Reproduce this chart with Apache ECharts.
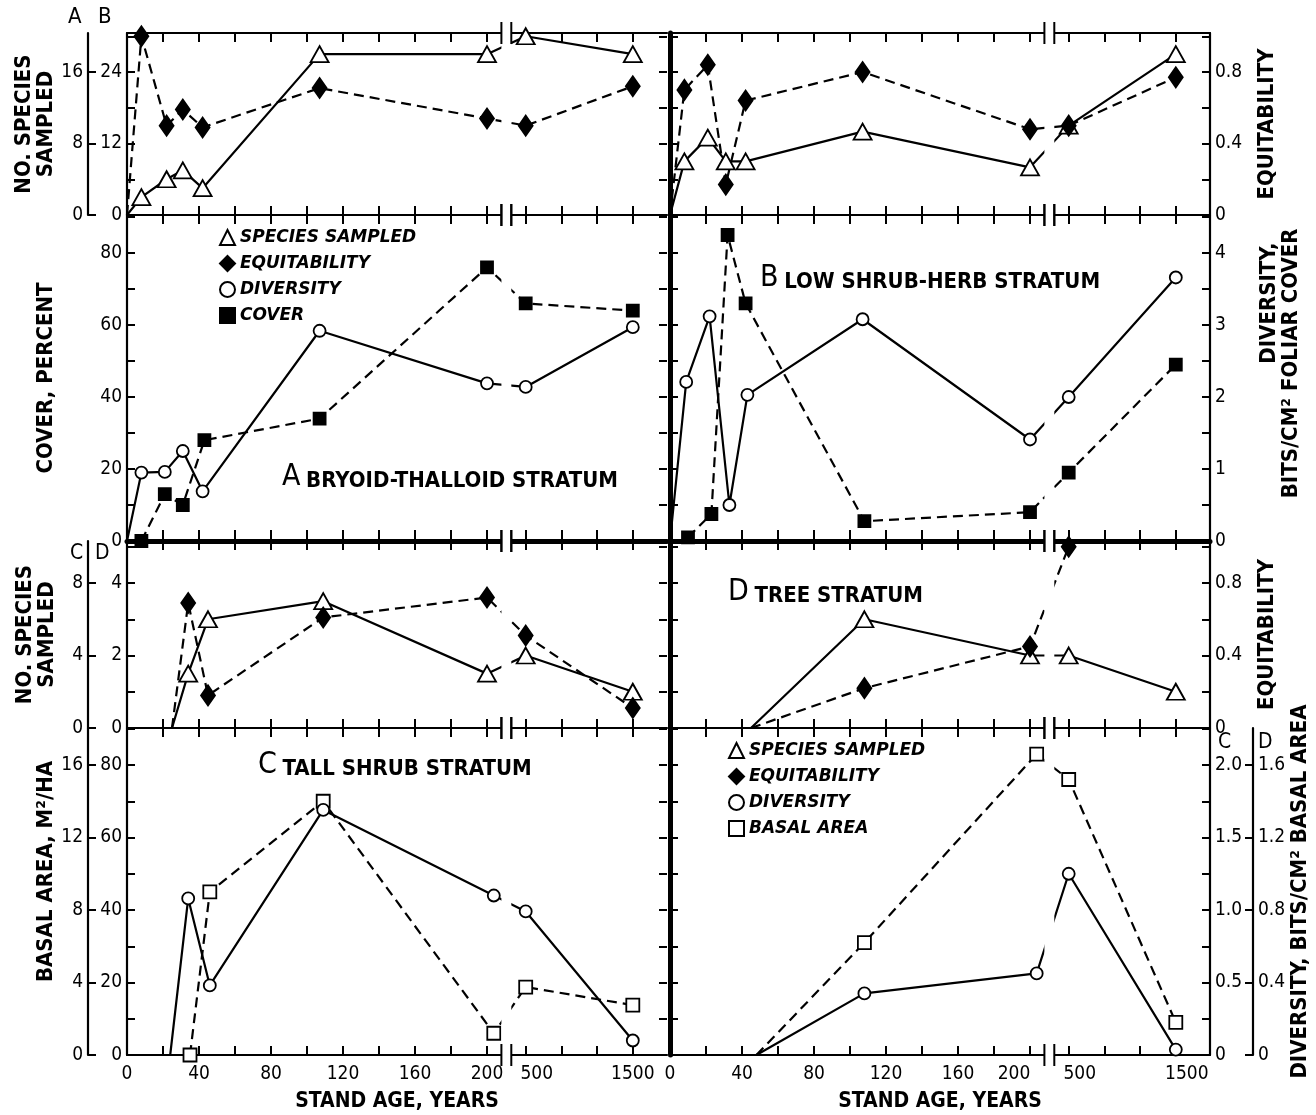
<!DOCTYPE html>
<html><head><meta charset="utf-8">
<script src="https://cdn.jsdelivr.net/npm/echarts@6/dist/echarts.min.js"></script>
<style>html,body{margin:0;padding:0;background:#fff}#c{width:1316px;height:1115px}</style>
</head><body><div id="c"></div>
<script>
// ================= DATA =================
// A  BRYOID-THALLOID STRATUM  (leading 0 entries = start of curve, no marker)
const ageA_species = [0, 8, 22, 31, 42, 107, 200, 500, 1500];
const speciesA     = [0, 2, 4, 5, 3, 18, 18, 20, 18];
const equitA       = [0, 1.0, 0.50, 0.59, 0.49, 0.71, 0.54, 0.50, 0.72];
const ageA_cover   = [8, 21, 31, 43, 107, 200, 500, 1500];
const coverA       = [0, 13, 10, 28, 34, 76, 66, 64];
const ageA_div     = [0, 8, 21, 31, 42, 107, 200, 500, 1500];
const diversityA   = [0, 0.95, 0.96, 1.25, 0.69, 2.92, 2.19, 2.14, 2.97];
// B  LOW SHRUB-HERB STRATUM
const ageB_species = [0, 8, 21, 31, 42, 107, 200, 500, 1500];
const speciesB     = [0, 9, 13, 9, 9, 14, 8, 15, 27];
const equitB       = [0, 0.70, 0.84, 0.17, 0.64, 0.80, 0.48, 0.50, 0.77];
const ageB_cover   = [10, 23, 32, 42, 108, 200, 500, 1500];
const coverB       = [1, 7.5, 85, 66, 5.5, 8, 19, 49];
const ageB_div     = [0, 9, 22, 33, 43, 107, 200, 500, 1500];
const diversityB   = [0, 2.21, 3.12, 0.5, 2.03, 3.08, 1.41, 2.0, 3.66];
// C  TALL SHRUB STRATUM
const ageC_species = [25, 34, 45, 109, 200, 500, 1500];
const speciesC     = [0, 3, 6, 7, 3, 4, 2];
const equitC       = [0, 0.69, 0.18, 0.61, 0.72, 0.51, 0.11];
const ageC_div     = [24, 34, 46, 109, 202, 500, 1500];
const diversityC   = [0, 1.08, 0.48, 1.69, 1.10, 0.99, 0.10];
const ageC_basal   = [35, 46, 109, 202, 500, 1500];
const basalC       = [0, 9.0, 14, 1.2, 3.75, 2.75];
// D  TREE STRATUM
const ageD_species = [45, 108, 200, 500, 1500];
const speciesD     = [0, 3, 2, 2, 1];
const ageD_equit   = [45, 108, 200, 500];
const equitD       = [0, 0.22, 0.45, 1.0];
const ageD_basal   = [48, 108, 201, 500, 1500];
const basalD       = [0, 31, 83, 76, 9];
const diversityD   = [0, 0.34, 0.45, 1.0, 0.03];

// x axis (stand age, broken between 200 and 500, compressed after 500)
const xTickAges  = [20, 40, 60, 80, 100, 120, 140, 160, 180, 200, 500, 833, 1167, 1500];
const xLabelAges = [0, 40, 80, 120, 160, 200, 500, 1500];
const xLabelText = ['0', '40', '80', '120', '160', '200', '500', '1500'];

// y tick / label values
const ticksA = [0, 8, 16],            labelsA = [0, 8, 16];
const ticksB = [0, 6, 12, 18, 24, 30], labelsB = [0, 12, 24];
const ticksEq = [0, 0.2, 0.4, 0.6, 0.8, 1.0], labelsEq = [0, 0.4, 0.8];
const ticksCover = [0, 10, 20, 30, 40, 50, 60, 70, 80, 90], labelsCover = [0, 20, 40, 60, 80];
const ticksDivAB = [0, 0.5, 1, 1.5, 2, 2.5, 3, 3.5, 4, 4.5], labelsDivAB = [0, 1, 2, 3, 4];
const ticksC = [0, 4, 8], labelsC = [0, 4, 8];
const ticksD = [0, 1, 2, 3, 4, 5], labelsD = [0, 2, 4];
const ticksBasC = [0, 4, 8, 12, 16], labelsBasC = [0, 4, 8, 12, 16];
const ticksBasD = [0, 10, 20, 30, 40, 50, 60, 70, 80, 90], labelsBasD = [0, 20, 40, 60, 80];
const ticksDivC = [0, 0.25, 0.5, 0.75, 1, 1.25, 1.5, 1.75, 2, 2.25], labelsDivC = [0, 0.5, 1, 1.5, 2];
const ticksDivD = [0, 0.4, 0.8, 1.2, 1.6], labelsDivD = [0, 0.4, 0.8, 1.2, 1.6];

// ================= LAYOUT =================
const FONT_N = "'Liberation Sans Narrow','DejaVu Sans Condensed','Liberation Sans',sans-serif";
const FONT_D = "'DejaVu Sans Condensed','DejaVu Sans',sans-serif";
const FONT_L = "'DejaVu Sans',sans-serif";
const COL_LEFT = [127, 670], COL_W = 540;
const ROW_TOP = [33, 215, 541, 728], ROW_H = [182, 326, 187, 327];
const PX_PER_UNIT = 1.8, XMAX = COL_W / PX_PER_UNIT;
const BREAK_POS = [208, 213.5];
function agePos(a) { return a <= 200 ? a : 221.5 + (a - 500) * (281 - 221.5) / 1000; }
// axis maxima so that scales on each row share tick positions
const MAX = {
  eq0: 1.0182, A: 1.0182 * 20, B: 1.0182 * 30,
  cover: 90.56, divAB: 90.56 / 20,
  D: 5.159, C: 5.159 * 2, eq2: 5.159 * 0.2,
  basD: 90.21, basC: 90.21 / 5, divC: 90.21 / 40, divD: 90.21 / 50
};

const grids = [];
for (let r = 0; r < 4; r++) for (let c = 0; c < 2; c++)
  grids.push({left: COL_LEFT[c], top: ROW_TOP[r], width: COL_W, height: ROW_H[r]});

const numStyle = {color: '#000', fontSize: 19, fontFamily: FONT_D};
// small per-column label nudges (style only)
const labelShift = [
  {'500': 'r'},
  {'200': 'l', '500': 'r', '1500': 'r'}
];
const xAxes = [];
grids.forEach((g, gi) => {
  const r = Math.floor(gi / 2), c = gi % 2;
  const bottomW = r === 1 ? 5 : 2.2;
  const isLast = r === 3;
  xAxes.push({
    type: 'value', gridIndex: gi, min: 0, max: XMAX, position: 'bottom',
    axisLine: {show: true, onZero: false, lineStyle: {color: '#000', width: bottomW}},
    axisTick: {show: true, inside: true, length: r === 1 ? 11 : 9, lineStyle: {color: '#000', width: 2}, customValues: xTickAges.map(agePos)},
    axisLabel: isLast ? Object.assign({show: true, customValues: xLabelAges.map(agePos), margin: 10,
      rich: {r: Object.assign({padding: [0, 0, 0, 22]}, numStyle), l: Object.assign({padding: [0, 32, 0, 0]}, numStyle)},
      formatter: v => {
        const i = xLabelAges.findIndex(a => Math.abs(agePos(a) - v) < 0.01);
        if (i < 0) return '';
        const t = xLabelText[i], s = labelShift[c][t];
        return s ? '{' + s + '|' + t + '}' : t;
      }}, numStyle) : {show: false},
    splitLine: {show: false},
    name: isLast ? 'STAND AGE, YEARS' : '', nameLocation: 'middle', nameGap: 36,
    nameTextStyle: {color: '#000', fontSize: 21, fontWeight: 'bold', fontFamily: FONT_N}
  });
  xAxes.push({
    type: 'value', gridIndex: gi, min: 0, max: XMAX, position: 'top',
    axisLine: {show: r === 0, onZero: false, lineStyle: {color: '#000', width: 2.2}},
    axisTick: {show: true, inside: true, length: 9, lineStyle: {color: '#000', width: 2}, customValues: xTickAges.map(agePos)},
    axisLabel: {show: false}, splitLine: {show: false}
  });
});

const yAxes = [];
function fmtNum(v) { return String(v); }
function addY(o) {
  yAxes.push({
    type: 'value', gridIndex: o.grid, min: 0, max: o.max, position: o.pos || 'left', offset: o.offset || 0,
    axisLine: {show: o.line !== false, onZero: false, lineStyle: {color: '#000', width: o.lw || 2.2}},
    axisTick: {show: true, inside: true, length: o.tl || 8, lineStyle: {color: '#000', width: 2}, customValues: o.ticks},
    axisLabel: o.labels ? Object.assign({show: true, customValues: o.labels, margin: o.margin || 5, formatter: o.fmt || fmtNum}, numStyle) : {show: false},
    splitLine: {show: false},
    name: o.name || '', nameLocation: 'middle', nameGap: o.nameGap || 30,
    nameTextStyle: Object.assign({color: '#000', fontSize: 22, fontWeight: 'bold', fontFamily: FONT_N, lineHeight: 22}, o.nameStyle || {})
  });
  return yAxes.length - 1;
}
const f1 = v => v === 0 ? '0' : v.toFixed(1);

// row 0
const yA0  = addY({grid: 0, max: MAX.A, offset: 39, ticks: ticksA, labels: labelsA, name: 'NO. SPECIES\nSAMPLED', nameGap: 30});
const yB0  = addY({grid: 0, max: MAX.B, ticks: ticksB, labels: labelsB});
const yE0  = addY({grid: 0, max: MAX.eq0, pos: 'right', line: false, ticks: ticksEq});
const yB1  = addY({grid: 1, max: MAX.B, lw: 5, ticks: ticksB});
const yE1  = addY({grid: 1, max: MAX.eq0, pos: 'right', ticks: ticksEq, labels: labelsEq, fmt: f1, name: 'EQUITABILITY', nameGap: 46});
// row 1
const yCov2 = addY({grid: 2, max: MAX.cover, ticks: ticksCover, labels: labelsCover, name: 'COVER, PERCENT', nameGap: 70});
const yDiv2 = addY({grid: 2, max: MAX.divAB, pos: 'right', line: false, ticks: ticksDivAB});
const yCov3 = addY({grid: 3, max: MAX.cover, lw: 5, ticks: ticksCover});
const yDiv3 = addY({grid: 3, max: MAX.divAB, pos: 'right', ticks: ticksDivAB, labels: labelsDivAB,
  name: '{a|DIVERSITY,}\n{b|BITS/CM² FOLIAR COVER}', nameGap: 48,
  nameStyle: {rich: {a: {width: 285, align: 'right', padding: [0, 14, 0, 0], fontSize: 22, fontWeight: 'bold', fontFamily: FONT_N, lineHeight: 22},
                     b: {width: 285, align: 'right', fontSize: 22, fontWeight: 'bold', fontFamily: FONT_N, lineHeight: 22}}}});
// row 2
const yC4 = addY({grid: 4, max: MAX.C, offset: 39, ticks: ticksC, labels: labelsC, name: 'NO. SPECIES\nSAMPLED', nameGap: 30});
const yD4 = addY({grid: 4, max: MAX.D, ticks: ticksD, labels: labelsD});
const yE4 = addY({grid: 4, max: MAX.eq2, pos: 'right', line: false, ticks: ticksEq});
const yD5 = addY({grid: 5, max: MAX.D, lw: 5, ticks: ticksD});
const yE5 = addY({grid: 5, max: MAX.eq2, pos: 'right', ticks: ticksEq, labels: labelsEq, fmt: f1, name: 'EQUITABILITY', nameGap: 46});
// row 3
const yBC6 = addY({grid: 6, max: MAX.basC, offset: 39, ticks: ticksBasC, labels: labelsBasC, name: 'BASAL AREA, M²/HA', nameGap: 28,
  nameStyle: {padding: [0, 0, 0, 40]}});
const yBD6 = addY({grid: 6, max: MAX.basD, ticks: ticksBasD, labels: labelsBasD});
const yDC6 = addY({grid: 6, max: MAX.divC, pos: 'right', line: false, ticks: ticksDivC});
const yBD7 = addY({grid: 7, max: MAX.basD, lw: 5, ticks: ticksBasD});
const yDC7 = addY({grid: 7, max: MAX.divC, pos: 'right', ticks: ticksDivC, labels: labelsDivC, fmt: f1});
const yDD7 = addY({grid: 7, max: MAX.divD, pos: 'right', offset: 43, ticks: ticksDivD, labels: labelsDivD, fmt: f1,
  name: 'DIVERSITY, BITS/CM² BASAL AREA', nameGap: 36});

// ================= SERIES =================
const STYLE = {
  species:   {name: 'SPECIES SAMPLED', symbol: 'triangle', size: [18, 16], fill: '#fff', dash: false},
  equit:     {name: 'EQUITABILITY', symbol: 'diamond', size: [14, 20], fill: '#000', dash: true},
  diversity: {name: 'DIVERSITY', symbol: 'circle', size: 12, fill: '#fff', dash: false},
  cover:     {name: 'COVER', symbol: 'rect', size: 12, fill: '#000', dash: true},
  basal:     {name: 'BASAL AREA', symbol: 'rect', size: 13, fill: '#fff', dash: true}
};
function line(kind, grid, yIdx, ages, vals, lead) {
  const st = STYLE[kind];
  return {
    type: 'line', name: st.name, xAxisIndex: grid * 2, yAxisIndex: yIdx,
    data: ages.map((a, i) => (lead && i === 0) ? {value: [agePos(a), vals[i]], symbol: 'none'} : [agePos(a), vals[i]]),
    symbol: st.symbol, symbolSize: st.size, showAllSymbol: true, clip: false, animation: false,
    itemStyle: {color: st.fill, borderColor: '#000', borderWidth: 1.8, opacity: 1},
    lineStyle: {color: '#000', width: 2.2, type: st.dash ? [10, 6] : 'solid'},
    emphasis: {disabled: true}, z: 3
  };
}
const series = [
  line('species', 0, yA0, ageA_species, speciesA, true),
  line('equit', 0, yE0, ageA_species, equitA, true),
  line('species', 1, yB1, ageB_species, speciesB, true),
  line('equit', 1, yE1, ageB_species, equitB, true),
  line('cover', 2, yCov2, ageA_cover, coverA, false),
  line('diversity', 2, yDiv2, ageA_div, diversityA, true),
  line('cover', 3, yCov3, ageB_cover, coverB, false),
  line('diversity', 3, yDiv3, ageB_div, diversityB, true),
  line('species', 4, yC4, ageC_species, speciesC, true),
  line('equit', 4, yE4, ageC_species, equitC, true),
  line('species', 5, yD5, ageD_species, speciesD, true),
  line('equit', 5, yE5, ageD_equit, equitD, true),
  line('basal', 6, yBC6, ageC_basal, basalC, false),
  line('diversity', 6, yDC6, ageC_div, diversityC, true),
  line('basal', 7, yBD7, ageD_basal, basalD, true),
  line('diversity', 7, yDD7, ageD_basal, diversityD, true)
];

// ================= TEXT =================
const big = {fontSize: 30, fontFamily: FONT_N, fontWeight: 'normal', color: '#000', verticalAlign: 'bottom'};
const sm  = {fontSize: 22, fontFamily: FONT_N, fontWeight: 'bold', color: '#000', verticalAlign: 'bottom'};
function ptitle(letter, rest, left, top) {
  return {text: '{b|' + letter + '} {s|' + rest + '}', left, top, padding: 0, z: 20, textStyle: {rich: {b: big, s: sm}}};
}
function letter(t, left, top, size) {
  return {text: t, left, top, padding: 0, z: 20, textStyle: {fontSize: size || 21, fontWeight: 'normal', fontFamily: FONT_N, color: '#000'}};
}
const legendText = {color: '#000', fontSize: 17, fontStyle: 'italic', fontWeight: 'bold', fontFamily: FONT_L};
const legendBase = {orient: 'vertical', padding: 0, itemGap: 9, itemWidth: 15, itemHeight: 15, selectedMode: false, z: 20, textStyle: legendText};

const option = {
  backgroundColor: '#fff',
  animation: false,
  textStyle: {fontFamily: FONT_N},
  grid: grids,
  xAxis: xAxes,
  yAxis: yAxes,
  title: [
    letter('A', 68, 6, 22), letter('B', 98, 6, 22),
    letter('C', 70, 543), letter('D', 95, 543),
    letter('C', 1218, 732), letter('D', 1258, 732),
    ptitle('A', 'BRYOID-THALLOID STRATUM', 282, 462),
    ptitle('B', 'LOW SHRUB-HERB STRATUM', 760, 263),
    ptitle('D', 'TREE STRATUM', 728, 577),
    ptitle('C', 'TALL SHRUB STRATUM', 258, 750)
  ],
  legend: [
    Object.assign({left: 219, top: 229, data: [
      {name: 'SPECIES SAMPLED', icon: 'triangle'}, {name: 'EQUITABILITY', icon: 'diamond'},
      {name: 'DIVERSITY', icon: 'circle'}, {name: 'COVER', icon: 'rect'}]}, legendBase),
    Object.assign({left: 728, top: 742, data: [
      {name: 'SPECIES SAMPLED', icon: 'triangle'}, {name: 'EQUITABILITY', icon: 'diamond'},
      {name: 'DIVERSITY', icon: 'circle'}, {name: 'BASAL AREA', icon: 'rect'}]}, legendBase)
  ],
  series
};

const chart = echarts.init(document.getElementById('c'), null, {renderer: 'canvas'});
chart.setOption(option);

// axis break: white gap + double break marks, placed through the x scale (below titles)
const gfx = [];
grids.forEach((g, gi) => {
  const x1 = chart.convertToPixel({xAxisIndex: gi * 2}, BREAK_POS[0]);
  const x2 = chart.convertToPixel({xAxisIndex: gi * 2}, BREAK_POS[1]);
  const top = g.top, bot = g.top + g.height;
  gfx.push({type: 'rect', z: 5, silent: true, shape: {x: x1, y: top - 4, width: x2 - x1, height: bot - top + 8}, style: {fill: '#fff'}});
  [top, bot].forEach(y => {
    [x1, x2].forEach(x => gfx.push({type: 'line', z: 5, z2: 10, silent: true,
      shape: {x1: x, y1: y - 11, x2: x, y2: y + 11}, style: {stroke: '#000', lineWidth: 2}}));
  });
});
chart.setOption({graphic: gfx});
</script>
</body></html>
